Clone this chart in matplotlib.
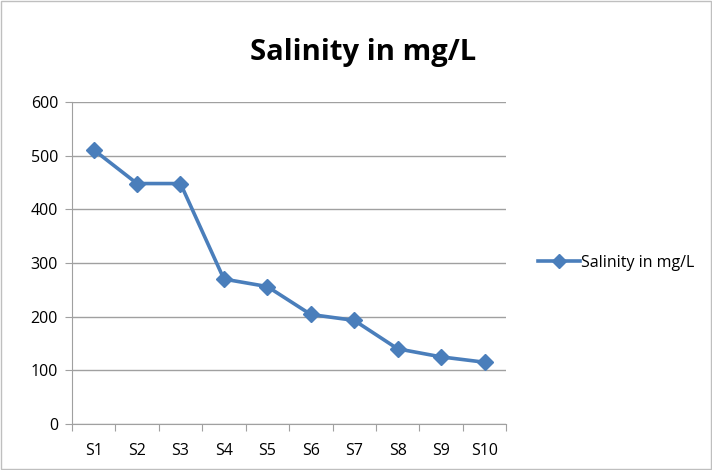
import matplotlib.pyplot as plt
from matplotlib.patches import Rectangle

stations = ["S1", "S2", "S3", "S4", "S5", "S6", "S7", "S8", "S9", "S10"]
salinity = [511, 448, 448, 270, 256, 204, 193, 140, 125, 115]
y_ticks = [0, 100, 200, 300, 400, 500, 600]

line_color = "#4a7ebb"
grid_color = "#a0a0a0"

plt.rcParams["font.family"] = ["Open Sans", "DejaVu Sans"]

fig = plt.figure(figsize=(7.12, 4.70), dpi=100)
ax = fig.add_axes([0.101, 0.098, 0.610, 0.685])

x = list(range(len(stations)))
ax.plot(
    x,
    salinity,
    color=line_color,
    linewidth=2.6,
    marker="D",
    markersize=8.5,
    label="Salinity in mg/L"
)

ax.set_xlim(-0.5, len(stations) - 0.5)
ax.set_ylim(0, 600)

# category boundaries get tick marks, labels sit in the middle
ax.set_xticks([i - 0.5 for i in range(len(stations) + 1)])
ax.set_xticklabels([])
ax.set_xticks(x, minor=True)
ax.set_xticklabels(stations, minor=True, fontsize=11.5)
ax.tick_params(axis="x", which="major", length=5, color=grid_color)
ax.tick_params(axis="x", which="minor", length=0, pad=14)

ax.set_yticks(y_ticks)
ax.set_yticklabels([str(v) for v in y_ticks], fontsize=11.5)
ax.tick_params(axis="y", length=5, color=grid_color, pad=5)

ax.yaxis.grid(True, color=grid_color, linewidth=1)
ax.set_axisbelow(True)

for side in ["top", "right"]:
    ax.spines[side].set_visible(False)
for side in ["left", "bottom"]:
    ax.spines[side].set_color(grid_color)

ax.set_title(
    "Salinity in mg/L",
    fontsize=21,
    fontweight="bold",
    pad=30,
    x=0.67
)

ax.legend(
    loc="center left",
    bbox_to_anchor=(1.04, 0.5),
    frameon=False,
    fontsize=11.5,
    handlelength=2.6,
    handletextpad=0.1,
    markerscale=0.8
)

fig.patches.append(
    Rectangle(
        (0.002, 0.002),
        0.996,
        0.996,
        transform=fig.transFigure,
        fill=False,
        edgecolor="#bfbfbf",
        linewidth=1
    )
)

fig.savefig("out.png", dpi=100)
